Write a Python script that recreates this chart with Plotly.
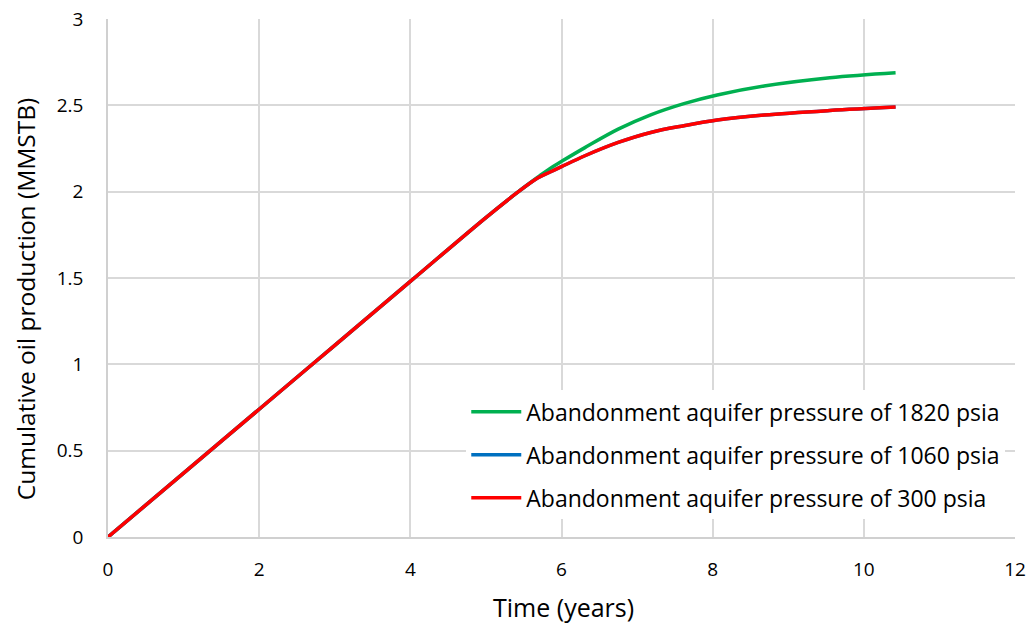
import plotly.graph_objects as go

time_years = [0, 1, 2, 3, 4, 5, 5.43, 5.69, 5.85, 6, 6.31, 6.75, 7.18, 7.62, 8.06, 8.68, 9.55, 10.42]
oil_1820 = [0, 0.37, 0.74, 1.11, 1.48, 1.85, 2.0, 2.085, 2.135, 2.175, 2.255, 2.362, 2.445, 2.51, 2.56, 2.612, 2.66, 2.689]
oil_1060 = [0, 0.37, 0.74, 1.11, 1.48, 1.85, 2.0, 2.08, 2.114, 2.145, 2.208, 2.285, 2.343, 2.382, 2.415, 2.444, 2.47, 2.49]
oil_300 = [0, 0.37, 0.74, 1.11, 1.48, 1.85, 2.0, 2.08, 2.114, 2.145, 2.208, 2.285, 2.343, 2.382, 2.415, 2.444, 2.47, 2.49]

names = ["Abandonment aquifer pressure of 1820 psia",
         "Abandonment aquifer pressure of 1060 psia",
         "Abandonment aquifer pressure of 300 psia"]
colors = ["#00B050", "#0070C0", "#FF0000"]
series = [oil_1820, oil_1060, oil_300]

FONT = "Open Sans, sans-serif"

fig = go.Figure()
for i, (nm, col, ys) in enumerate(zip(names, colors, series)):
    fig.add_trace(go.Scatter(
        x=time_years, y=ys, mode="lines", name=nm,
        line=dict(color=col, width=3.5, shape="spline", smoothing=1.0),
        legendgroup=f"g{i}",
    ))

fig.update_layout(
    width=1035, height=623,
    paper_bgcolor="white", plot_bgcolor="white",
    margin=dict(l=108, r=20, t=19, b=86),
    font=dict(family=FONT, size=19, color="#000000"),
    showlegend=True,
    legend=dict(
        x=0.395, y=0.283, xanchor="left", yanchor="top",
        font=dict(family=FONT, size=23, color="#000000"),
        bgcolor="rgba(255,255,255,1)",
        traceorder="grouped", tracegroupgap=10,
        itemwidth=50,
    ),
    xaxis=dict(
        range=[0, 12], tickmode="array", tickvals=[0, 2, 4, 6, 8, 10, 12],
        ticktext=["0", "2", "4", "6", "8", "10", "12"],
        showgrid=True, gridcolor="#d9d9d9", gridwidth=1.5,
        showline=True, linecolor="#d0d0d0", linewidth=1.5,
        zeroline=False, ticks="outside", ticklen=14, tickcolor="rgba(0,0,0,0)",
        automargin=False, ticklabeloverflow="allow",
        tickfont=dict(family=FONT, size=19),
    ),
    yaxis=dict(
        range=[0, 3], tickmode="array", tickvals=[0, 0.5, 1, 1.5, 2, 2.5, 3],
        ticktext=["0", "0.5", "1", "1.5", "2", "2.5", "3"],
        showgrid=True, gridcolor="#d9d9d9", gridwidth=1.5,
        showline=True, linecolor="#d0d0d0", linewidth=1.5,
        zeroline=False, ticks="", ticklabelstandoff=19,
        automargin=False, ticklabeloverflow="allow",
        tickfont=dict(family=FONT, size=19),
    ),
    annotations=[
        dict(text="Time (years)", xref="paper", yref="paper", x=0.502, y=0,
             xanchor="center", yanchor="middle", yshift=-70, showarrow=False,
             font=dict(family=FONT, size=25)),
        dict(text="Cumulative oil production (MMSTB)", xref="paper", yref="paper",
             x=0, y=0.459, xanchor="center", yanchor="middle", xshift=-83,
             textangle=-90, showarrow=False, font=dict(family=FONT, size=24.5)),
    ],
)

# remove the default 8px page margin so the figure fills the window exactly
fig.write_html("out.html", config={"displayModeBar": False},
               post_script="document.body.style.margin='0';")
